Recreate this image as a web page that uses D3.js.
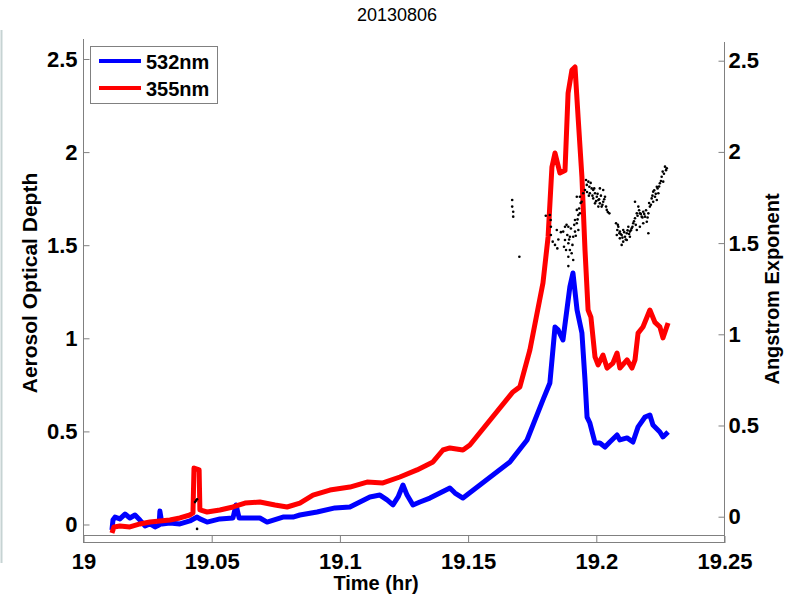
<!DOCTYPE html>
<html>
<head>
<meta charset="utf-8">
<script src="https://cdn.jsdelivr.net/npm/d3@7"></script>
<style>
html,body{margin:0;padding:0;background:#fff;}
svg{display:block;}
text{font-family:"Liberation Sans",Arial,Helvetica,sans-serif;}
</style>
</head>
<body>
<div id="chart"></div>
<script>
const chartTitle = "20130806";
const seriesNames = ["532nm", "355nm"];
const xTickValues = [19, 19.05, 19.1, 19.15, 19.2, 19.25];
const xTickLabels = ["19", "19.05", "19.1", "19.15", "19.2", "19.25"];
const yTickValues = [0, 0.5, 1, 1.5, 2, 2.5];
const yTickLabels = ["0", "0.5", "1", "1.5", "2", "2.5"];

const time532 = [19.0109,19.0113,19.0121,19.0140,19.0160,19.0179,19.0199,19.0218,19.0238,19.0257,19.0277,19.0293,19.0296,19.0304,19.0335,19.0374,19.0413,19.0441,19.0452,19.0480,19.0530,19.0581,19.0593,19.0605,19.0647,19.0686,19.0714,19.0776,19.0815,19.0842,19.0909,19.0979,19.1037,19.1076,19.1115,19.1154,19.1182,19.1205,19.1225,19.1244,19.1260,19.1283,19.1310,19.1349,19.1388,19.1427,19.1447,19.1478,19.1661,19.1728,19.1790,19.1817,19.1837,19.1849,19.1868,19.1895,19.1907,19.1923,19.1942,19.1954,19.1962,19.1973,19.1993,19.2012,19.2032,19.2051,19.2079,19.2090,19.2118,19.2141,19.2161,19.2188,19.2207,19.2219,19.2246,19.2258,19.2278];
const aod532 = [-0.030,0.024,0.040,0.030,0.056,0.035,0.051,0.024,-0.008,0.003,-0.013,-0.003,0.072,0.003,0.008,0.003,0.019,0.040,0.030,0.013,0.030,0.035,0.105,0.035,0.035,0.035,0.013,0.040,0.040,0.051,0.067,0.089,0.094,0.121,0.148,0.158,0.132,0.105,0.148,0.212,0.158,0.105,0.121,0.142,0.169,0.196,0.169,0.142,0.336,0.454,0.669,0.760,1.061,1.045,0.991,1.276,1.351,1.152,1.028,0.776,0.577,0.545,0.438,0.438,0.416,0.443,0.481,0.454,0.465,0.443,0.524,0.577,0.588,0.534,0.497,0.470,0.497];

const time355 = [19.0109,19.0117,19.0140,19.0179,19.0218,19.0257,19.0296,19.0335,19.0374,19.0413,19.0425,19.0429,19.0449,19.0452,19.0480,19.0530,19.0581,19.0628,19.0686,19.0745,19.0792,19.0842,19.0893,19.0959,19.1037,19.1104,19.1166,19.1232,19.1299,19.1361,19.1400,19.1427,19.1478,19.1505,19.1673,19.1700,19.1739,19.1790,19.1810,19.1825,19.1837,19.1856,19.1876,19.1888,19.1903,19.1915,19.1927,19.1942,19.1954,19.1966,19.1977,19.1993,19.2005,19.2024,19.2040,19.2063,19.2079,19.2090,19.2118,19.2137,19.2149,19.2161,19.2180,19.2207,19.2227,19.2246,19.2258,19.2278];
const aod355 = [-0.046,-0.013,-0.008,-0.013,0.003,0.013,0.019,0.024,0.035,0.051,0.062,0.303,0.293,0.078,0.067,0.078,0.094,0.115,0.121,0.105,0.094,0.115,0.158,0.185,0.201,0.228,0.223,0.255,0.293,0.336,0.400,0.411,0.400,0.427,0.712,0.739,0.937,1.297,1.544,1.920,1.995,1.888,1.901,2.317,2.441,2.457,2.189,1.866,1.474,1.152,1.114,0.900,0.857,0.910,0.840,0.867,0.921,0.840,0.884,0.840,0.884,1.028,1.061,1.152,1.085,1.061,1.002,1.082];

const timeAngstrom = [19.0433,19.0437,19.0441,19.0441,19.1670,19.1670,19.1674,19.1674,19.1698,19.1801,19.1817,19.1820,19.1821,19.1821,19.1828,19.1837,19.1846,19.1844,19.1869,19.1876,19.1885,19.1889,19.1876,19.1889,19.1880,19.1895,19.1902,19.1889,19.1908,19.1889,19.1895,19.1915,19.1922,19.1928,19.1922,19.1934,19.1915,19.1928,19.1908,19.1922,19.1934,19.1941,19.1947,19.1958,19.1961,19.1971,19.1980,19.1986,19.1973,19.1993,19.2000,19.1986,19.2006,19.1993,19.2012,19.2019,19.2006,19.2025,19.2032,19.2012,19.2025,19.2039,19.2049,19.1954,19.1967,19.2075,19.2084,19.2090,19.2078,19.2097,19.2103,19.2110,19.2090,19.2117,19.2123,19.2103,19.2097,19.2129,19.2136,19.2142,19.2149,19.2156,19.2149,19.2162,19.2168,19.2175,19.2181,19.2188,19.2195,19.2201,19.2201,19.2181,19.2168,19.2156,19.2207,19.2214,19.2220,19.2227,19.2234,19.2240,19.2246,19.2253,19.2259,19.2266,19.2273,19.2257,19.2220,19.2234,19.2080,19.2088,19.2117,19.2129,
  19.1850,19.1860,19.1872,19.1882,19.1892,19.1899,19.1905,19.1912,19.1918,19.1925,19.1931,19.1937,
  19.1962,19.1969,19.1976,19.1983,19.1990,19.1997,19.2003,19.2009,19.2016,19.2022,19.2029,19.2036,19.2043,
  19.2082,19.2093,19.2100,19.2107,19.2113,19.2120,19.2126,19.2133,19.2139,19.2145,19.2152,
  19.2159,19.2165,19.2172,19.2178,19.2185,19.2192,19.2198,19.2204,19.2211,19.2217,19.2224,19.2230,19.2237,19.2243,19.2250,19.2262,19.2270];
const angstromExp = [0.080,0.088,0.096,-0.067,1.736,1.700,1.672,1.645,1.425,1.650,1.654,1.627,1.590,1.544,1.508,1.490,1.471,1.572,1.563,1.590,1.544,1.590,1.517,1.499,1.462,1.462,1.444,1.425,1.407,1.374,1.535,1.563,1.609,1.654,1.682,1.663,1.627,1.572,1.535,1.754,1.754,1.727,1.773,1.846,1.819,1.809,1.800,1.791,1.773,1.773,1.754,1.745,1.736,1.718,1.718,1.700,1.700,1.727,1.754,1.800,1.791,1.682,1.663,1.791,1.837,1.609,1.590,1.563,1.544,1.544,1.572,1.535,1.526,1.554,1.590,1.508,1.490,1.563,1.581,1.609,1.636,1.663,1.727,1.700,1.663,1.645,1.672,1.645,1.617,1.663,1.554,1.609,1.590,1.572,1.700,1.745,1.782,1.754,1.809,1.773,1.828,1.864,1.837,1.919,1.910,1.892,1.727,1.736,1.572,1.554,1.517,1.535,
  1.52,1.56,1.48,1.60,1.52,1.58,1.49,1.60,1.54,1.63,1.69,1.72,
  1.78,1.76,1.83,1.76,1.80,1.73,1.77,1.74,1.76,1.71,1.74,1.70,1.67,
  1.60,1.55,1.53,1.56,1.52,1.57,1.55,1.57,1.59,1.62,1.60,
  1.65,1.68,1.66,1.64,1.66,1.68,1.64,1.72,1.71,1.76,1.79,1.77,1.80,1.81,1.84,1.88,1.90];

const W = 789, H = 601;
const svg = d3.select("#chart").append("svg").attr("width", W).attr("height", H);
svg.append("rect").attr("width", W).attr("height", H).attr("fill", "#fff");

const xL = 84, xR = 725;
const x = d3.scaleLinear().domain([19, 19.25]).range([xL, xR]);
const yL = d3.scaleLinear().domain([-0.0994, 2.6074]).range([543, 39]);
const yR = d3.scaleLinear().domain([-0.1442, 2.6025]).range([543, 42]);

const axisColor = "#808080";

svg.append("line").attr("x1", 1.5).attr("x2", 1.5).attr("y1", 30).attr("y2", 563)
  .attr("stroke", "#c6d3d3").attr("stroke-width", 2);

const line = d3.line().x(d => x(d[0])).y(d => yL(d[1]));
const d532 = time532.map((t, i) => [t, aod532[i]]);
const d355 = time355.map((t, i) => [t, aod355[i]]);

svg.append("path").datum(d532).attr("d", line).attr("fill", "none")
  .attr("stroke", "#0000ff").attr("stroke-width", 5).attr("stroke-linejoin", "round");
svg.append("path").datum(d355).attr("d", line).attr("fill", "none")
  .attr("stroke", "#ff0000").attr("stroke-width", 5).attr("stroke-linejoin", "round");

svg.append("g").selectAll("circle").data(timeAngstrom.map((t, i) => [t, angstromExp[i]]))
  .join("circle").attr("cx", d => x(d[0])).attr("cy", d => yR(d[1])).attr("r", 1.3).attr("fill", "#000");

svg.append("line").attr("x1", xL - 0.5).attr("x2", xR - 0.5).attr("y1", 535.5).attr("y2", 535.5).attr("stroke", axisColor);
svg.append("line").attr("x1", xL - 0.5).attr("x2", xR - 0.5).attr("y1", 542.5).attr("y2", 542.5).attr("stroke", axisColor);
svg.append("line").attr("x1", xL - 0.5).attr("x2", xL - 0.5).attr("y1", 39).attr("y2", 543).attr("stroke", axisColor);
svg.append("line").attr("x1", xR - 0.5).attr("x2", xR - 0.5).attr("y1", 42).attr("y2", 543).attr("stroke", axisColor);

const gx = svg.append("g").attr("transform", "translate(-0.5,536)")
  .call(d3.axisBottom(x).tickValues(xTickValues).tickFormat((d, i) => xTickLabels[i]).tickSizeInner(7).tickSizeOuter(0).tickPadding(10));
gx.select(".domain").remove();
gx.selectAll(".tick line").attr("stroke", axisColor);
gx.selectAll(".tick text").attr("font-size", 22).attr("font-weight", "bold").attr("fill", "#000")
  .attr("font-family", "Liberation Sans, Arial, sans-serif");

const gyl = svg.append("g").attr("transform", "translate(83.5,0)")
  .call(d3.axisLeft(yL).tickValues(yTickValues).tickFormat((d, i) => yTickLabels[i]).tickSizeInner(-6).tickSizeOuter(0).tickPadding(6));
gyl.select(".domain").remove();
gyl.selectAll(".tick line").attr("stroke", axisColor);
gyl.selectAll(".tick text").attr("font-size", 22).attr("font-weight", "bold").attr("fill", "#000")
  .attr("font-family", "Liberation Sans, Arial, sans-serif");

const gyr = svg.append("g").attr("transform", "translate(724.5,0)")
  .call(d3.axisRight(yR).tickValues(yTickValues).tickFormat((d, i) => yTickLabels[i]).tickSizeInner(-6).tickSizeOuter(0).tickPadding(4));
gyr.select(".domain").remove();
gyr.selectAll(".tick line").attr("stroke", axisColor);
gyr.selectAll(".tick text").attr("font-size", 22).attr("font-weight", "bold").attr("fill", "#000")
  .attr("font-family", "Liberation Sans, Arial, sans-serif");

svg.append("text").attr("x", 397).attr("y", 21).attr("text-anchor", "middle")
  .attr("font-size", 18).attr("fill", "#000").text(chartTitle);
svg.append("text").attr("x", 376).attr("y", 590).attr("text-anchor", "middle")
  .attr("font-size", 20).attr("font-weight", "bold").attr("fill", "#000").text("Time (hr)");
svg.append("text").attr("transform", "translate(37,283) rotate(-90)").attr("text-anchor", "middle")
  .attr("font-size", 21).attr("font-weight", "bold").attr("fill", "#000").text("Aerosol Optical Depth");
svg.append("text").attr("transform", "translate(779,289) rotate(-90)").attr("text-anchor", "middle")
  .attr("font-size", 20).attr("font-weight", "bold").attr("fill", "#000").text("Angstrom Exponent");

const lg = svg.append("g");
lg.append("rect").attr("x", 90.5).attr("y", 46.5).attr("width", 127).attr("height", 57)
  .attr("fill", "#fff").attr("stroke", axisColor);
const legColors = ["#0000ff", "#ff0000"];
seriesNames.forEach((name, i) => {
  const yy = 61 + i * 27;
  lg.append("line").attr("x1", 99).attr("x2", 141).attr("y1", yy).attr("y2", yy)
    .attr("stroke", legColors[i]).attr("stroke-width", 4);
  lg.append("text").attr("x", 146).attr("y", yy + 8).attr("font-size", 20).attr("font-weight", "bold")
    .attr("fill", "#000").text(name);
});
</script>
</body>
</html>
